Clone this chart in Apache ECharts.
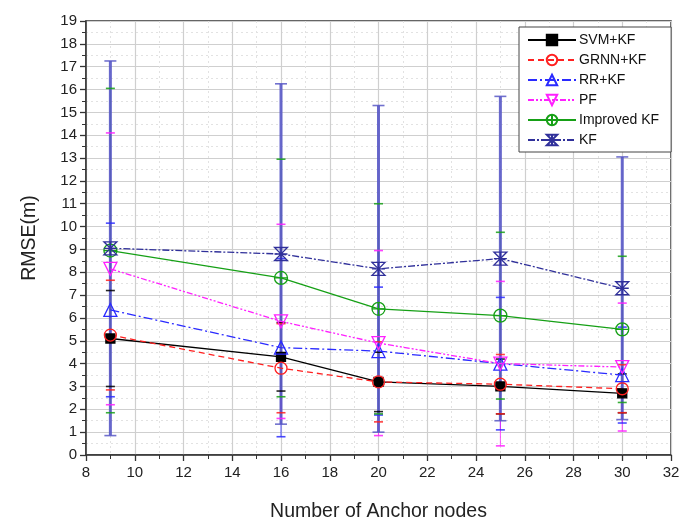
<!DOCTYPE html>
<html>
<head>
<meta charset="utf-8">
<script src="https://cdn.jsdelivr.net/npm/echarts@6/dist/echarts.min.js"></script>
<style>
  html, body { margin: 0; padding: 0; background: #fff; }
  #chart { width: 685px; height: 527px; }
</style>
</head>
<body>
<div id="chart"></div>
<script>
// anchor node counts
var anchors = [9, 16, 20, 25, 30];

// mean RMSE per method
var svmKf = [5.1, 4.3, 3.2, 3.0, 2.7];
var grnnKf = [5.25, 3.8, 3.2, 3.1, 2.9];
var rrKf = [6.35, 4.7, 4.55, 4.0, 3.5];
var pf = [8.15, 5.85, 4.9, 4.0, 3.85];
var improvedKf = [8.95, 7.75, 6.4, 6.1, 5.5];
var kf = [9.05, 8.8, 8.15, 8.6, 7.3];

// error bar half-length per method
var svmKfErr = [2.1, 1.5, 1.3, 1.2, 0.85];
var grnnKfErr = [2.4, 1.95, 1.75, 1.3, 1.05];
var rrKfErr = [3.8, 3.9, 2.8, 2.9, 2.1];
var pfErr = [5.95, 4.25, 4.05, 3.6, 2.8];
var improvedKfErr = [7.1, 5.2, 4.6, 3.65, 3.2];
var kfErr = [8.2, 7.45, 7.15, 7.1, 5.75];

var names = ['SVM+KF', 'GRNN+KF', 'RR+KF', 'PF', 'Improved KF', 'KF'];
var means = [svmKf, grnnKf, rrKf, pf, improvedKf, kf];
var errs = [svmKfErr, grnnKfErr, rrKfErr, pfErr, improvedKfErr, kfErr];
var colors = ['#000000', '#ff2020', '#2a2aff', '#ff20ff', '#16a016', '#30309a'];
var dashes = ['solid', [6, 4], [9, 3, 2, 3], [6, 2, 2, 2, 2, 2], 'solid', [7, 2, 2, 2]];
var kfBar = '#5858c6';

var circlePlus = 'path://M0,10 A10,10 0 1,1 20,10 A10,10 0 1,1 0,10 Z M10,0 L10,20 M0,10 L20,10';
var starX = 'path://M0,0 L20,0 L0,20 L20,20 Z M10,0 L10,20 M0,10 L20,10';
var symbols = ['rect', 'circle', 'triangle', 'triangle', circlePlus, starX];
var symbolRot = [0, 0, 0, 180, 0, 0];
var symbolSz = [9, 12, 13, 13, 13, 13];

var chart = echarts.init(document.getElementById('chart'));

var errRows = [];
for (var s = 0; s < names.length; s++) {
  for (var i = 0; i < anchors.length; i++) {
    errRows.push([anchors[i], means[s][i], errs[s][i], s]);
  }
}

function barLine(params, api) {
  var x = api.value(0), m = api.value(1), e = api.value(2), s = api.value(3);
  var hi = api.coord([x, m + e]), lo = api.coord([x, m - e]);
  var isKf = s === 5;
  return {
    type: 'line',
    shape: { x1: hi[0], y1: hi[1], x2: lo[0], y2: lo[1] },
    style: isKf
      ? { stroke: kfBar, lineWidth: 3, opacity: 0.9 }
      : { stroke: colors[s], lineWidth: 1, opacity: 0.8 }
  };
}

function barCaps(params, api) {
  var x = api.value(0), m = api.value(1), e = api.value(2), s = api.value(3);
  var hi = api.coord([x, m + e]), lo = api.coord([x, m - e]);
  var w = s === 5 ? 6 : 4.5;
  var st = { stroke: s === 5 ? kfBar : colors[s], lineWidth: 1.6, opacity: 0.85 };
  return {
    type: 'group',
    children: [
      { type: 'line', shape: { x1: hi[0] - w, y1: hi[1], x2: hi[0] + w, y2: hi[1] }, style: st },
      { type: 'line', shape: { x1: lo[0] - w, y1: lo[1], x2: lo[0] + w, y2: lo[1] }, style: st }
    ]
  };
}

var series = [
  {
    type: 'custom', renderItem: barLine, data: errRows, z: 1,
    encode: { x: 0, y: 1 }, silent: true
  },
  {
    type: 'custom', renderItem: barCaps, data: errRows, z: 3,
    encode: { x: 0, y: 1 }, silent: true
  }
];

for (var k = 0; k < names.length; k++) {
  var pts = [];
  for (var j = 0; j < anchors.length; j++) pts.push([anchors[j], means[k][j]]);
  series.push({
    name: names[k],
    type: 'line',
    data: pts,
    z: 4,
    symbol: symbols[k],
    symbolSize: symbolSz[k],
    symbolRotate: symbolRot[k],
    showAllSymbol: true,
    lineStyle: { color: colors[k], width: 1.3, type: dashes[k] },
    itemStyle: {
      color: k === 0 ? '#000' : 'rgba(255,255,255,0)',
      borderColor: colors[k],
      borderWidth: 1.3
    }
  });
}

var option = {
  backgroundColor: '#fff',
  animation: false,
  textStyle: { fontFamily: 'Liberation Sans, Arial, sans-serif' },
  grid: {
    left: 86, right: 14, top: 21, bottom: 71,
    show: true, borderColor: '#333', borderWidth: 1.5
  },
  legend: {
    data: names,
    orient: 'vertical',
    left: 519, top: 27,
    padding: [6, 12, 5, 8],
    itemGap: 6,
    itemWidth: 48,
    itemHeight: 13,
    backgroundColor: '#fff',
    borderColor: '#444',
    borderWidth: 1,
    borderRadius: 0,
    textStyle: { fontSize: 14, color: '#111', padding: [0, 0, 0, -2] }
  },
  xAxis: {
    type: 'value',
    min: 8, max: 32, interval: 2,
    name: 'Number of Anchor nodes',
    nameLocation: 'middle',
    nameGap: 47,
    nameTextStyle: { fontSize: 19.5, color: '#222' },
    axisLine: { lineStyle: { color: '#333', width: 1.5 } },
    axisTick: { length: 6, lineStyle: { color: '#333', width: 1.3 } },
    minorTick: { show: true, splitNumber: 2, length: 4, lineStyle: { color: '#333' } },
    axisLabel: { fontSize: 15, color: '#222', margin: 10 },
    splitLine: { show: true, lineStyle: { color: '#cfcfcf', width: 1.2 } },
    minorSplitLine: { show: true, lineStyle: { color: '#e2e2e2', type: [2, 3] } }
  },
  yAxis: {
    type: 'value',
    min: 0, max: 19, interval: 1,
    name: 'RMSE(m)',
    nameLocation: 'middle',
    nameGap: 46,
    nameTextStyle: { fontSize: 19.5, color: '#222' },
    axisLine: { lineStyle: { color: '#333', width: 1.5 } },
    axisTick: { length: 6, lineStyle: { color: '#333', width: 1.3 } },
    minorTick: { show: true, splitNumber: 2, length: 4, lineStyle: { color: '#333' } },
    axisLabel: { fontSize: 15, color: '#222', margin: 9 },
    splitLine: { show: true, lineStyle: { color: '#cfcfcf', width: 1.2 } },
    minorSplitLine: { show: true, lineStyle: { color: '#e2e2e2', type: [2, 3] } }
  },
  series: series
};

chart.setOption(option);
</script>
</body>
</html>
